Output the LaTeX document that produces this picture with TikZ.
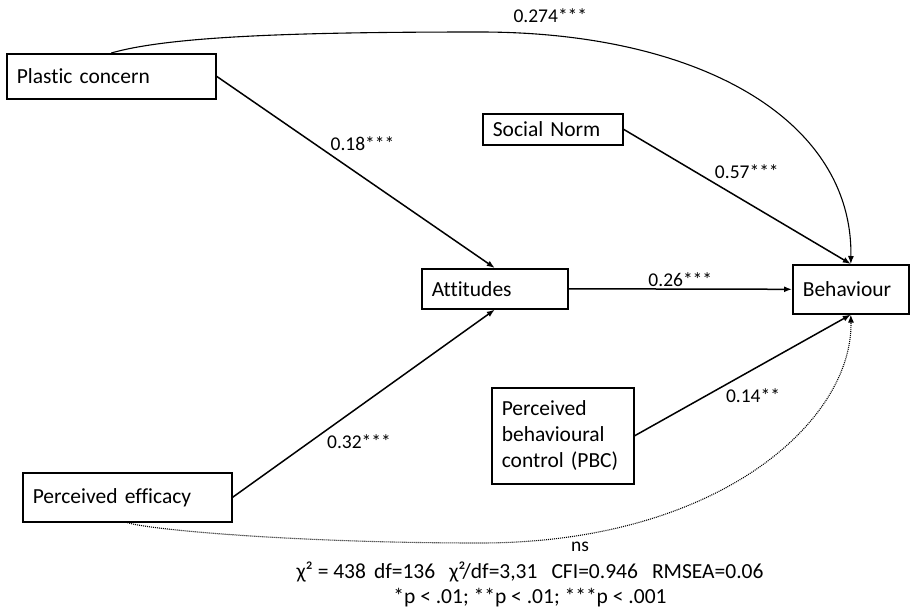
\documentclass[tikz,border=0pt]{standalone}
\usepackage{fontspec}
\setmainfont{Carlito}[Ligatures=NoCommon]
\usetikzlibrary{arrows.meta}

\begin{document}
\begin{tikzpicture}[x=1pt, y=-1pt, >={Latex[length=8pt,width=6pt]},
    var/.style={draw, line width=1.6pt, anchor=north west, align=left, inner xsep=10pt, font=\fontsize{21.5}{26}\selectfont},
    effect/.style={->, line width=1.5pt},
    coef/.style={font=\fontsize{19.5}{23}\selectfont, inner sep=2pt}]
    \useasboundingbox (0,0) rectangle (910,608);

    % Constructs
    \node[var, minimum width=209pt, minimum height=45pt, text width=189pt] (pc) at (6,53) {Plastic concern};
    \node[var, minimum width=140pt, minimum height=31pt, text width=120pt] (sn) at (482,113) {Social Norm};
    \node[var, minimum width=146pt, minimum height=40pt, text width=126pt] (att) at (421,268) {Attitudes};
    \node[var, minimum width=116pt, minimum height=49pt, text width=96pt] (beh) at (792,264) {Behaviour};
    \node[var, minimum width=142pt, minimum height=96pt, text width=122pt] (pbc) at (491,387) {Perceived\\behavioural\\control (PBC)};
    \node[var, minimum width=209pt, minimum height=49pt, text width=189pt] (pe) at (22,472) {Perceived efficacy};

    % Paths with coefficients
    \draw[effect] (pc.east) -- (att.north) node[coef, pos=.4, anchor=south west] {0.18***};
    \draw[effect] (pe.east) -- (att.south) node[coef, pos=.35, anchor=north west] {0.32***};
    \draw[effect] (att.east) -- (beh.west) node[coef, midway, above] {0.26***};
    \draw[effect] (sn.east) -- (beh.north) node[coef, pos=.39, anchor=south west] {0.57***};
    \draw[effect] (pbc.east) -- (beh.south) node[coef, pos=.41, anchor=north west] {0.14**};

    % Direct paths to behaviour
    \draw[->, line width=1.1pt] (pc.north) .. controls (170,36) and (300,32) .. (480,32)
        node[coef, anchor=south west, xshift=31pt, yshift=7pt] {0.274***}
        .. controls (700,32) and (853,120) .. (beh.north);
    \draw[->, line width=1.1pt, dash pattern=on 1pt off 1pt] (pe.south) .. controls (150,530) and (300,543) .. (480,543)
        node[coef, xshift=100pt, yshift=-4pt] {ns}
        .. controls (720,543) and (853,420) .. (beh.south);

    % Fit indices
    \node[font=\fontsize{21.5}{25}\selectfont, align=center] (fit) at (530,584)
        {χ² = 438\hspace{8pt}df=136\hspace{14pt}χ²/df=3,31\hspace{14pt}CFI=0.946\hspace{14pt}RMSEA=0.06\\{}*p < .01; **p < .01; ***p < .001};
\end{tikzpicture}
\end{document}
